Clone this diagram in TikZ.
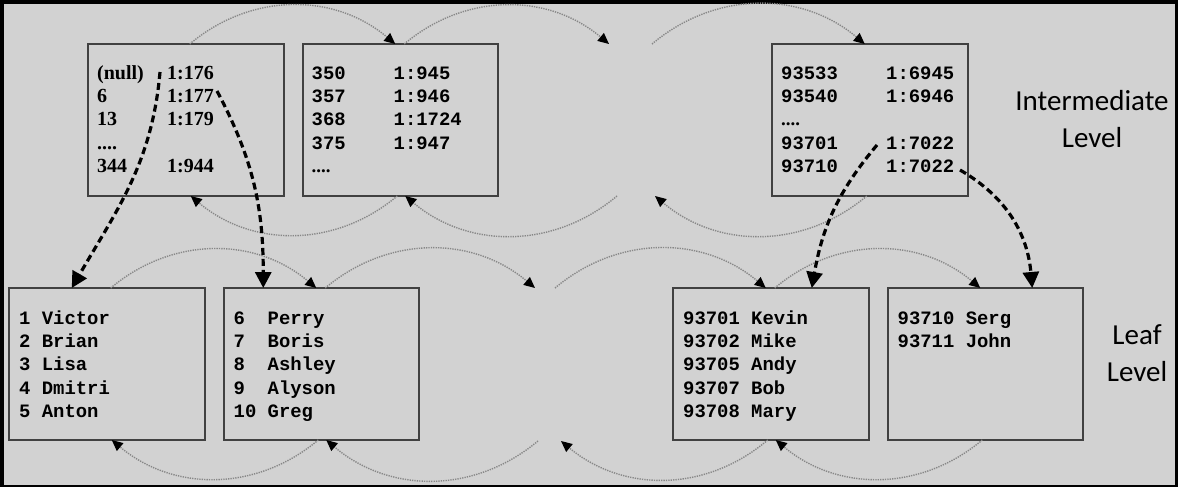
\documentclass[tikz,border=0pt]{standalone}
\usepackage{fontspec}
\usetikzlibrary{positioning,arrows.meta}
\newfontfamily\monofont{Liberation Mono}
\newfontfamily\seriffont{Liberation Serif}
\newfontfamily\labelfont{Carlito}
\definecolor{paper}{RGB}{210,210,210}
\definecolor{edge}{RGB}{65,65,65}
\definecolor{dotgray}{RGB}{135,135,135}
\newcommand{\moredots}{{\seriffont\bfseries ....}}

\tikzset{
  page/.style={x=1pt, y=1pt},
  box/.style={draw=edge, line width=2pt, minimum width=195.5pt, minimum height=152pt, inner sep=0pt, outer sep=0pt},
  rows/.style={anchor=base west, inner sep=0pt, font=\monofont\bfseries\fontsize{18.9}{23.4}\selectfont},
  serifrows/.style={rows, font=\seriffont\bfseries\fontsize{20}{23.4}\selectfont},
  link/.style={draw=dotgray, line width=1.4pt, dash pattern=on 1.3pt off 1.1pt, -{Triangle[length=11pt,width=10pt,color=black]}},
  ptr/.style={line width=3.2pt, dash pattern=on 7pt off 4pt, -{Triangle[length=16pt,width=16pt]}},
  level/.style={font=\labelfont\fontsize{29}{37}\selectfont, align=center, text=black}
}

\begin{document}
\begin{tikzpicture}[page]
        \useasboundingbox (0,0) rectangle (1178,-487);
        \fill[black] (0,0) rectangle (1178,-487);
        \fill[paper] (4,-4) rectangle (1175,-485);

        % Intermediate level pages
        \node[box, anchor=north west] (I1) at (88,-44) {};
        \node[box, right=19pt of I1] (I2) {};
        \node[box, right=274pt of I2] (I3) {};

        % Leaf level pages
        \node[box, anchor=north west] (L1) at (9,-288) {};
        \node[box, right=19pt of L1] (L2) {};
        \node[box, right=254pt of L2] (L3) {};
        \node[box, right=19pt of L3] (L4) {};

        % Page rows
        \node[serifrows] (I1-rows) at ([shift={(9,-35)}]I1.north west) {\begin{tabular}[t]{@{}p{70pt}@{}l@{}}
            (null) & 1:176\\ 6 & 1:177\\ 13 & 1:179\\ .... & \\ 344 & 1:944
        \end{tabular}};
        \node[rows] (I2-rows) at ([shift={(9,-35)}]I2.north west) {\begin{tabular}[t]{@{}p{82pt}@{}l@{}}
            350 & 1:945\\ 357 & 1:946\\ 368 & 1:1724\\ 375 & 1:947\\ \moredots &
        \end{tabular}};
        \node[rows] (I3-rows) at ([shift={(9,-35)}]I3.north west) {\begin{tabular}[t]{@{}p{105pt}@{}l@{}}
            93533 & 1:6945\\ 93540 & 1:6946\\ \moredots & \\ 93701 & 1:7022\\ 93710 & 1:7022
        \end{tabular}};
        \node[rows] (L1-rows) at ([shift={(10,-36)}]L1.north west) {\begin{tabular}[t]{@{}l@{}}
            1 Victor\\ 2 Brian\\ 3 Lisa\\ 4 Dmitri\\ 5 Anton
        \end{tabular}};
        \node[rows] (L2-rows) at ([shift={(10,-36)}]L2.north west) {\begin{tabular}[t]{@{}l@{}}
            6\ \ Perry\\ 7\ \ Boris\\ 8\ \ Ashley\\ 9\ \ Alyson\\ 10 Greg
        \end{tabular}};
        \node[rows] (L3-rows) at ([shift={(10,-36)}]L3.north west) {\begin{tabular}[t]{@{}l@{}}
            93701 Kevin\\ 93702 Mike\\ 93705 Andy\\ 93707 Bob\\ 93708 Mary
        \end{tabular}};
        \node[rows] (L4-rows) at ([shift={(10,-36)}]L4.north west) {\begin{tabular}[t]{@{}l@{}}
            93710 Serg\\ 93711 John
        \end{tabular}};

        % Level labels
        \node[level] (midlabel) at (1092,-119) {Intermediate\\Level};
        \node[level] (leaflabel) at (1137,-353) {Leaf\\Level};

        % Open ends of the page chains
        \coordinate (gapI-tin) at (609,-44);
        \coordinate (gapI-tout) at (652,-44);
        \coordinate (gapI-bout) at (617,-196);
        \coordinate (gapI-bin) at (655,-196);
        \coordinate (gapL-tin) at (535,-288);
        \coordinate (gapL-tout) at (555,-288);
        \coordinate (gapL-bout) at (538,-441);
        \coordinate (gapL-bin) at (561,-441);

        % Next / previous page links
        \foreach \a/\b in {I1/I2, L1/L2, L3/L4} {
            \draw[link] ([xshift=4pt]\a.north) to[bend left=40] ([xshift=-5pt]\b.north);
            \draw[link] ([xshift=-3pt]\b.south) to[bend left=40] ([xshift=5pt]\a.south);
        }
        \draw[link] ([xshift=4pt]I2.north) to[bend left=40] (gapI-tin);
        \draw[link] (gapI-tout) to[bend left=40] ([xshift=-5pt]I3.north);
        \draw[link] (gapI-bout) to[bend left=40] ([xshift=5pt]I2.south);
        \draw[link] ([xshift=-3pt]I3.south) to[bend left=40] (gapI-bin);
        \draw[link] ([xshift=4pt]L2.north) to[bend left=40] (gapL-tin);
        \draw[link] (gapL-tout) to[bend left=40] ([xshift=-5pt]L3.north);
        \draw[link] (gapL-bout) to[bend left=40] ([xshift=5pt]L2.south);
        \draw[link] ([xshift=-3pt]L3.south) to[bend left=40] (gapL-bin);

        % Pointers down to the leaf pages
        \coordinate (p176) at ([shift={(72,-28)}]I1.north west);
        \coordinate (p177) at ([shift={(129,-47)}]I1.north west);
        \coordinate (p7022a) at ([shift={(105,-101)}]I3.north west);
        \coordinate (p7022b) at ([shift={(188,-126)}]I3.north west);
        \draw[ptr] (p176) to[out=-95, in=60] ([xshift=-35pt]L1.north);
        \draw[ptr] (p177) to[out=-62, in=90] ([xshift=-58pt]L2.north);
        \draw[ptr] (p7022a) to[out=-130, in=80] ([xshift=41pt]L3.north);
        \draw[ptr] (p7022b) to[out=-30, in=95] ([xshift=47pt]L4.north);

\end{tikzpicture}
\end{document}
